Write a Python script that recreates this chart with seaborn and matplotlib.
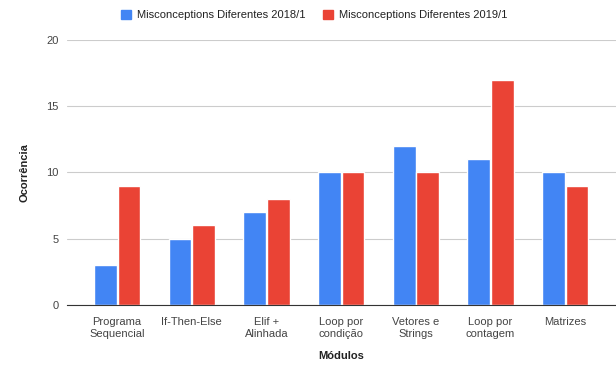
import numpy as np
import pandas as pd
import seaborn as sns
from matplotlib import pyplot as plt
from matplotlib.patches import Patch

modulos = ['Programa\nSequencial', 'If-Then-Else', 'Elif +\nAlinhada', 'Loop por\ncondição',
           'Vetores e\nStrings', 'Loop por\ncontagem', 'Matrizes']
series = ['Misconceptions Diferentes 2018/1', 'Misconceptions Diferentes 2019/1']
valores_2018 = [3, 5, 7, 10, 12, 11, 10]
valores_2019 = [9, 6, 8, 10, 10, 17, 9]
cores = ['#4285F4', '#EA4335']

df = pd.DataFrame({
    'Módulo': modulos * 2,
    'Série': [series[0]] * len(modulos) + [series[1]] * len(modulos),
    'Ocorrência': valores_2018 + valores_2019,
})

sns.set_style('white')
plt.rcParams['font.family'] = ['Liberation Sans', 'DejaVu Sans']

fig = plt.figure(figsize=(6.16, 3.66), dpi=100)
ax = fig.add_axes([0.109, 0.167, 0.891, 0.724])
sns.barplot(data=df, x='Módulo', y='Ocorrência', hue='Série', palette=cores,
            width=0.63, gap=0.03, ax=ax, legend=False, saturation=1)

ax.set_ylim(0, 20)
ax.set_yticks([0, 5, 10, 15, 20])
ax.set_xlim(-0.67, 6.68)
ax.grid(axis='y', color='#cccccc', linewidth=0.8)
ax.set_axisbelow(True)
for s in ['top', 'right', 'left']:
    ax.spines[s].set_visible(False)
ax.spines['bottom'].set_color('#333333')
ax.tick_params(axis='both', length=0, labelsize=8, colors='#444444')
ax.tick_params(axis='x', pad=9)
ax.tick_params(axis='y', pad=6)
ax.set_xlabel('Módulos', fontsize=8, fontweight='bold', color='#222222', labelpad=9)
ax.set_ylabel('Ocorrência', fontsize=8, fontweight='bold', color='#222222', labelpad=12)

handles = [Patch(color=c, label=s) for c, s in zip(cores, series)]
fig.legend(handles=handles, loc='upper center', bbox_to_anchor=(0.51, 1.0), ncol=2,
           frameon=False, fontsize=8, handlelength=0.9, handleheight=0.9,
           columnspacing=1.5, handletextpad=0.6, labelcolor='#222222')

fig.savefig('out.png', dpi=100)
